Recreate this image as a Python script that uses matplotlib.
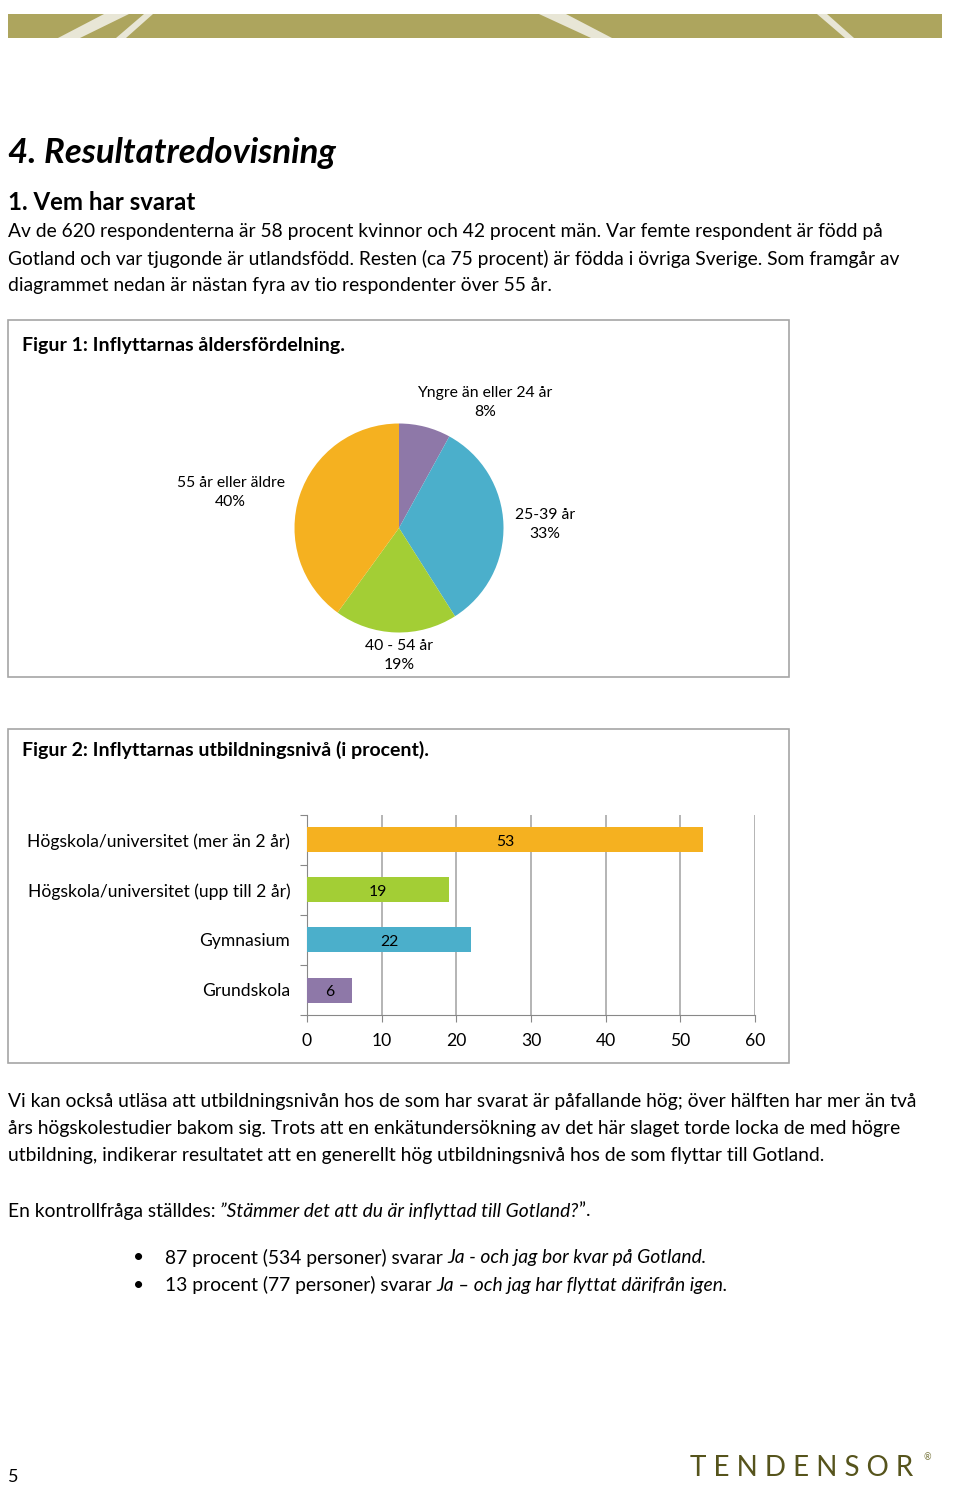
import matplotlib
matplotlib.use('Agg')
import matplotlib.pyplot as plt
from matplotlib.patches import Polygon, Rectangle

plt.rcParams['font.family'] = ['Lato', 'DejaVu Sans']

# data
age_labels = ['Yngre än eller 24 år', '25-39 år', '40 - 54 år', '55 år eller äldre']
age_pct = [8, 33, 19, 40]
age_colors = ['#8E78A8', '#4BAFCB', '#A3CE35', '#F5B120']

edu_labels = ['Grundskola', 'Gymnasium',
              'Högskola/universitet (upp till 2 år)',
              'Högskola/universitet (mer än 2 år)']
edu_vals = [6, 22, 19, 53]
edu_colors = ['#8E78A8', '#4BAFCB', '#A3CE35', '#F5B120']
edu_ticks = [0, 10, 20, 30, 40, 50, 60]

W, H = 960, 1486
fig = plt.figure(figsize=(W / 100, H / 100), dpi=100)
fig.patch.set_facecolor('white')

# page canvas in pixel coordinates
bg = fig.add_axes([0, 0, 1, 1])
bg.set_xlim(0, W)
bg.set_ylim(H, 0)
bg.axis('off')

renderer = fig.canvas.get_renderer()


def runs(x, y, parts, size, **kw):
    # draw text pieces side by side, parts = [(text, style)]
    for txt, style in parts:
        t = bg.text(x, y, txt, fontsize=size, style=style,
                    va='center', ha='left', **kw)
        bb = t.get_window_extent(renderer=renderer)
        x += bb.width


# header band
olive = '#ADA55E'
light = '#E8E6D6'
bg.add_patch(Rectangle((8, 14), 934, 24, color=olive, lw=0))
stripes = [
    [(58, 38), (80, 38), (129, 14), (104, 14)],
    [(116, 38), (126, 38), (153, 14), (144, 14)],
    [(591, 38), (612, 38), (566, 14), (539, 14)],
    [(845, 38), (854, 38), (827, 14), (817, 14)],
]
for s in stripes:
    bg.add_patch(Polygon(s, closed=True, color=light, lw=0))

body = 13.9
bg.text(8, 153, '4. Resultatredovisning', fontsize=25, weight='bold',
        style='italic', va='center')
bg.text(8, 203, '1. Vem har svarat', fontsize=17.3, weight='bold', va='center')
para1 = ['Av de 620 respondenterna är 58 procent kvinnor och 42 procent män. Var femte respondent är född på',
         'Gotland och var tjugonde är utlandsfödd. Resten (ca 75 procent) är födda i övriga Sverige. Som framgår av',
         'diagrammet nedan är nästan fyra av tio respondenter över 55 år.']
for i, line in enumerate(para1):
    bg.text(8, 231 + i * 27.5, line, fontsize=body, va='center')

# figure frames
for top, bottom in [(320, 677), (729, 1063)]:
    bg.add_patch(Rectangle((8, top), 781, bottom - top, fill=False,
                           ec='#A6A6A6', lw=1.2))

bg.text(22, 346, 'Figur 1: Inflyttarnas åldersfördelning.', fontsize=14,
        weight='bold', va='center')
bg.text(22, 750, 'Figur 2: Inflyttarnas utbildningsnivå (i procent).',
        fontsize=14, weight='bold', va='center')

# pie chart
cx, cy, r = 399, 528, 104.5
pie_ax = fig.add_axes([(cx - r) / W, 1 - (cy + r) / H, 2 * r / W, 2 * r / H])
pie_ax.pie(age_pct, colors=age_colors, startangle=90, counterclock=False,
           wedgeprops=dict(linewidth=0))
pie_ax.set_xlim(-1, 1)
pie_ax.set_ylim(-1, 1)
pie_ax.axis('off')

# label positions relative to the pie (in radii)
label_pos = [(0.82, 1.20), (1.40, 0.03), (0.0, -1.22), (-1.61, 0.34)]
for lab, p, (lx, ly) in zip(age_labels, age_pct, label_pos):
    pie_ax.text(lx, ly, f'{lab}\n{p}%', ha='center', va='center',
                fontsize=11.3, linespacing=1.45, clip_on=False)

# bar chart
x0, x1 = 307, 755
y0, y1 = 815, 1015
bar_ax = fig.add_axes([x0 / W, 1 - y1 / H, (x1 - x0) / W, (y1 - y0) / H])
ypos = list(range(len(edu_vals)))
bars = bar_ax.barh(ypos, edu_vals, height=0.5, color=edu_colors, zorder=3)
for b, v in zip(bars, edu_vals):
    bar_ax.text(b.get_width() / 2, b.get_y() + b.get_height() / 2 - 0.04, str(v),
                ha='center', va='center', fontsize=11.3, zorder=4)
bar_ax.set_xlim(0, 60)
bar_ax.set_ylim(-0.5, len(edu_vals) - 0.5)
bar_ax.set_xticks(edu_ticks)
bar_ax.set_xticklabels([str(t) for t in edu_ticks], fontsize=12.6)
bar_ax.set_yticks([i - 0.5 for i in range(len(edu_vals) + 1)])
bar_ax.set_yticklabels([])
bar_ax.set_yticks(ypos, minor=True)
bar_ax.set_yticklabels(edu_labels, minor=True, fontsize=12.6)
bar_ax.tick_params(axis='y', which='minor', length=0, pad=12)
bar_ax.tick_params(axis='y', which='major', length=5, color='#888888')
bar_ax.tick_params(axis='x', length=5, color='#888888', pad=8)
bar_ax.grid(axis='x', color='#A0A0A0', lw=1.1, zorder=0)
for side in ['top', 'right']:
    bar_ax.spines[side].set_visible(False)
for side in ['left', 'bottom']:
    bar_ax.spines[side].set_color('#888888')
bar_ax.set_facecolor('none')

# text after the bar chart
para2 = ['Vi kan också utläsa att utbildningsnivån hos de som har svarat är påfallande hög; över hälften har mer än två',
         'års högskolestudier bakom sig. Trots att en enkätundersökning av det här slaget torde locka de med högre',
         'utbildning, indikerar resultatet att en generellt hög utbildningsnivå hos de som flyttar till Gotland.']
for i, line in enumerate(para2):
    bg.text(8, 1101 + i * 27.5, line, fontsize=body, va='center')

runs(8, 1211, [('En kontrollfråga ställdes: ', 'normal'),
               ('”Stämmer det att du är inflyttad till Gotland?', 'italic'),
               ('”.', 'normal')], body)

bg.text(133, 1258, '•', fontsize=body, va='center')
bg.text(133, 1285, '•', fontsize=body, va='center')
runs(165, 1258, [('87 procent (534 personer) svarar ', 'normal'),
                 ('Ja - och jag bor kvar på Gotland.', 'italic')], body)
runs(165, 1285, [('13 procent (77 personer) svarar ', 'normal'),
                 ('Ja – och jag har flyttat därifrån igen.', 'italic')], body)

# footer
bg.text(8, 1477, '5', fontsize=13, va='center')
bg.text(690, 1468, 'T E N D E N S O R', fontsize=20, color='#56541C',
        va='center')
bg.text(923, 1458, '®', fontsize=6.5, color='#7A7840', va='center')

fig.savefig('out.png', dpi=100)
